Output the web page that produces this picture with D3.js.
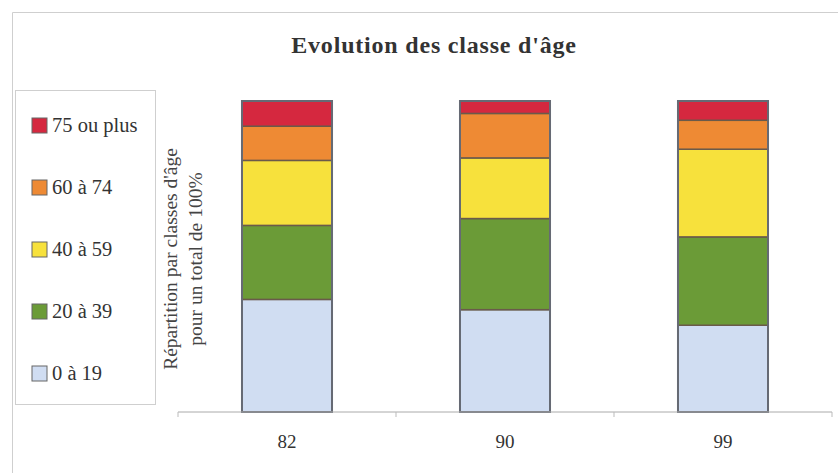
<!DOCTYPE html>
<html>
<head>
<meta charset="utf-8">
<script src="https://cdnjs.cloudflare.com/ajax/libs/d3/7.8.5/d3.min.js"></script>
<style>
  body { margin: 0; background: #fff; }
  svg { display: block; }
  text { font-family: "Liberation Serif", "Times New Roman", serif; }
</style>
</head>
<body>
<svg id="chart" width="838" height="473"></svg>
<script>
// années (axe des x)
const years = ['82', '90', '99'];
// classes d'âge, du bas vers le haut
const ageClasses = ['0 à 19', '20 à 39', '40 à 59', '60 à 74', '75 ou plus'];
// part de chaque classe en %, une liste par classe (82, 90, 99)
const share0to19 = [36.2, 32.9, 27.9];
const share20to39 = [23.8, 29.3, 28.4];
const share40to59 = [20.9, 19.5, 28.2];
const share60to74 = [11.0, 14.3, 9.3];
const share75plus = [8.1, 4.0, 6.2];
const colors = ['#d0ddf2', '#6b9b37', '#f7e13c', '#ee8a34', '#d5283f'];

const series = [share0to19, share20to39, share40to59, share60to74, share75plus];
const rows = years.map((y, i) => {
  const r = { year: y };
  ageClasses.forEach((c, k) => { r[c] = series[k][i]; });
  return r;
});

const svg = d3.select('#chart');

// cadre extérieur
svg.append('path')
  .attr('d', 'M12.5,473 V12.5 H838')
  .attr('fill', 'none')
  .attr('stroke', '#cfcfcf');

svg.append('text')
  .attr('x', 434)
  .attr('y', 53)
  .attr('text-anchor', 'middle')
  .attr('font-size', 24)
  .attr('font-weight', 'bold')
  .attr('letter-spacing', 0.8)
  .attr('fill', '#333')
  .text("Evolution des classe d'âge");

const x = d3.scaleBand().domain(years).range([178, 832]).paddingInner(0.587).paddingOuter(0.2935);
const y = d3.scaleLinear().domain([0, 100]).range([412, 101]);

const stacked = d3.stack().keys(ageClasses)(rows);

svg.append('g')
  .selectAll('g')
  .data(stacked)
  .enter().append('g')
  .attr('fill', (d, i) => colors[i])
  .selectAll('rect')
  .data(d => d)
  .enter().append('rect')
  .attr('x', d => x(d.data.year))
  .attr('y', d => y(d[1]))
  .attr('width', x.bandwidth())
  .attr('height', d => y(d[0]) - y(d[1]))
  .attr('stroke', '#6a5a4a')
  .attr('stroke-width', 1.5);

// contour des barres
svg.append('g')
  .selectAll('rect')
  .data(rows)
  .enter().append('rect')
  .attr('x', d => x(d.year))
  .attr('y', y(100))
  .attr('width', x.bandwidth())
  .attr('height', y(0) - y(100))
  .attr('fill', 'none')
  .attr('stroke', '#666a74')
  .attr('stroke-width', 2);

// axe des x
const xAxis = svg.append('g')
  .attr('transform', 'translate(0,' + y(0) + ')');
xAxis.append('line')
  .attr('x1', 178).attr('x2', 832)
  .attr('stroke', '#aaa');
xAxis.selectAll('.tick-mark')
  .data([178, 178 + x.step(), 178 + 2 * x.step(), 832])
  .enter().append('line')
  .attr('x1', d => d).attr('x2', d => d)
  .attr('y1', 0).attr('y2', 5)
  .attr('stroke', '#bbb');
xAxis.selectAll('.lbl')
  .data(years)
  .enter().append('text')
  .attr('x', d => x(d) + x.bandwidth() / 2)
  .attr('y', 36)
  .attr('text-anchor', 'middle')
  .attr('font-size', 19)
  .attr('fill', '#333')
  .text(d => d);

// titre de l'axe des y
const yTitle = svg.append('text')
  .attr('transform', 'translate(177,259) rotate(-90)')
  .attr('text-anchor', 'middle')
  .attr('font-size', 19.5)
  .attr('fill', '#444');
yTitle.append('tspan').attr('x', 0).attr('dy', 0).text("Répartition par classes d'âge");
yTitle.append('tspan').attr('x', 0).attr('dy', 25).text('pour un total de 100%');

// légende
svg.append('rect')
  .attr('x', 15.5).attr('y', 90.5)
  .attr('width', 140).attr('height', 314)
  .attr('fill', '#fff')
  .attr('stroke', '#cfcfcf');

const legend = svg.append('g')
  .selectAll('g')
  .data(ageClasses.slice().reverse())
  .enter().append('g')
  .attr('transform', (d, i) => 'translate(32,' + (125 + i * 62) + ')');
legend.append('rect')
  .attr('x', 0).attr('y', -7)
  .attr('width', 15).attr('height', 15)
  .attr('fill', d => colors[ageClasses.indexOf(d)])
  .attr('stroke', '#666');
legend.append('text')
  .attr('x', 20).attr('y', 7)
  .attr('font-size', 20.5)
  .attr('fill', '#333')
  .text(d => d);
</script>
</body>
</html>
